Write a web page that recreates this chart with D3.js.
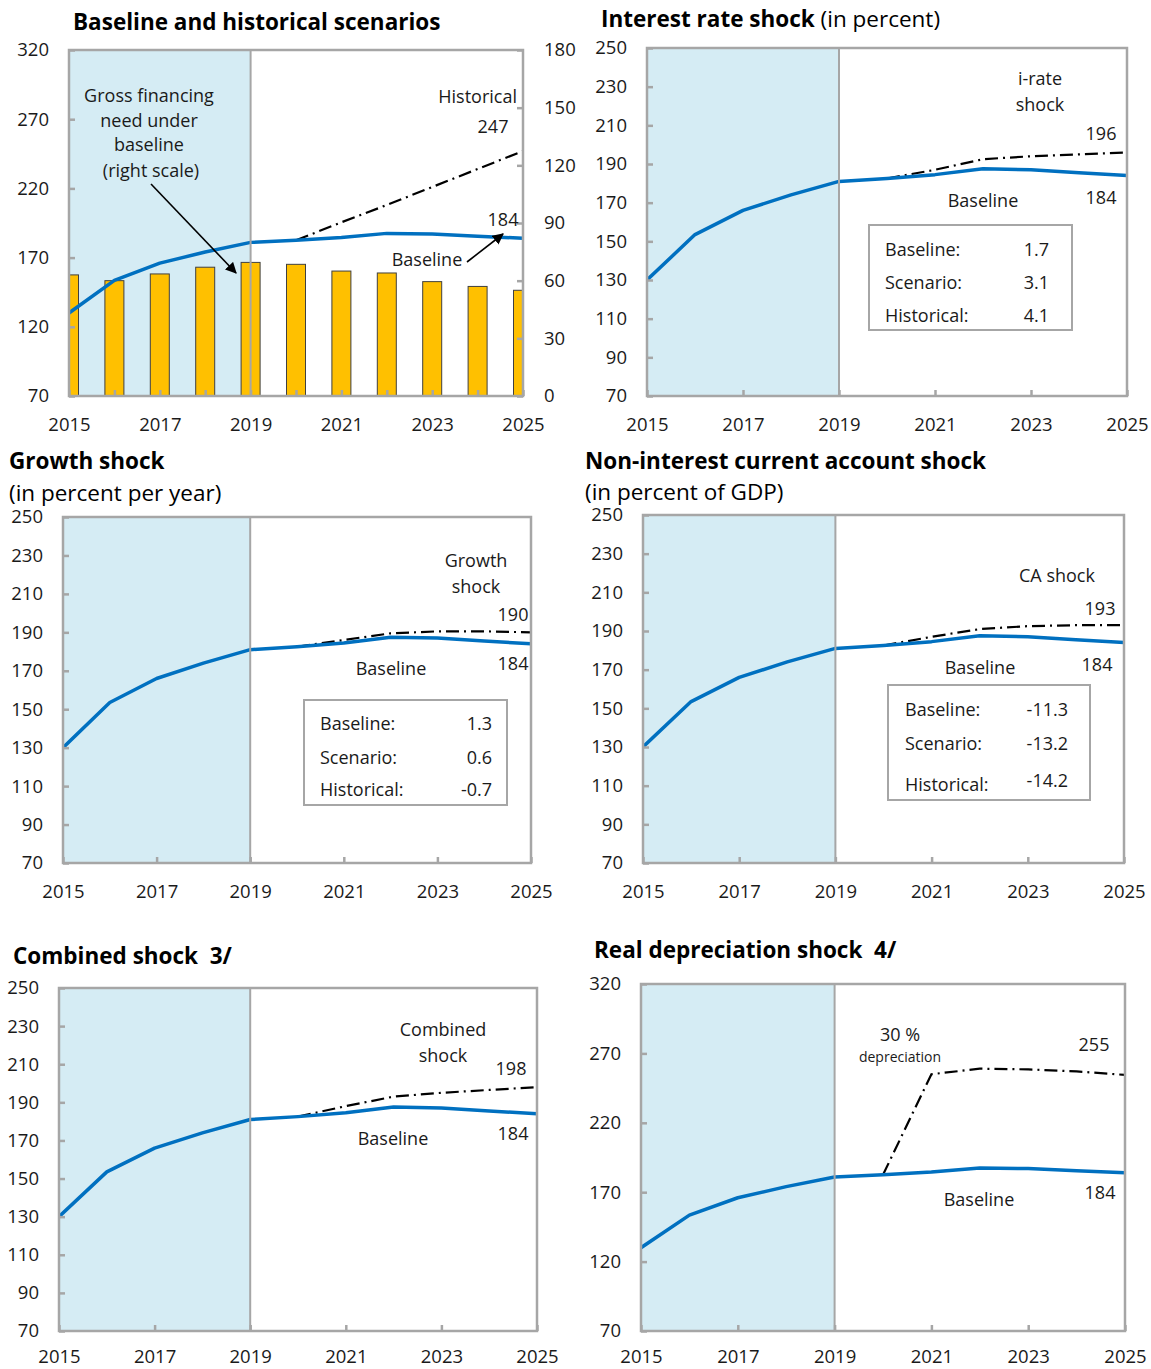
<!DOCTYPE html>
<html>
<head>
<meta charset="utf-8">
<script src="https://cdn.jsdelivr.net/npm/d3@7"></script>
<style>
  html, body { margin: 0; padding: 0; background: #fff; }
  svg { display: block; font-family: "Open Sans", "Noto Sans", sans-serif; }
</style>
</head>
<body>
<div id="chart"></div>
<script>
/* Debt sustainability stress tests: six small panels, baseline path vs. a
   shock scenario (dash-dot). Panel 1 also carries gross financing need bars
   on a right-hand scale. Projection period starts after 2019. */
var years = [2015, 2016, 2017, 2018, 2019, 2020, 2021, 2022, 2023, 2024, 2025];
var baseline = [130, 153.5, 166, 174, 181, 182.5, 184.5, 187.5, 187, 185.5, 184];
var grossFinancing = [63, 60, 63.5, 67, 69.5, 68.5, 65, 64, 59.5, 57, 55];

var scenarioYears = [2020, 2021, 2022, 2023, 2024, 2025];
var historical = [182.5, 195.5, 208, 221, 234, 247];
var irateShock = [182.5, 187, 192.5, 194, 195, 196];
var growthShock = [182.5, 186, 189.5, 190.5, 190.5, 190];
var caShock = [182.5, 187, 191, 192.5, 193, 193];
var combinedShock = [182.5, 188, 193, 195, 196.5, 198];
var deprShock = [182.5, 255, 259, 258.5, 257, 254.5];

var xLabelYears = [2015, 2017, 2019, 2021, 2023, 2025];
var ticks250 = [70, 90, 110, 130, 150, 170, 190, 210, 230, 250];
var ticks320 = [70, 120, 170, 220, 270, 320];
var ticksRight = [0, 30, 60, 90, 120, 150, 180];

var tableRows = ["Baseline:", "Scenario:", "Historical:"];
var irateTable = ["1.7", "3.1", "4.1"];
var growthTable = ["1.3", "0.6", "-0.7"];
var caTable = ["-11.3", "-13.2", "-14.2"];

var BLUE = "#0070C0", SHADE = "#D5ECF4", FRAME = "#A6A6A6";

var svg = d3.select("#chart").append("svg")
  .attr("width", 1151).attr("height", 1369);

var defs = svg.append("defs");
defs.append("marker").attr("id", "arrow")
  .attr("viewBox", "0 0 10 10").attr("refX", 9).attr("refY", 5)
  .attr("markerWidth", 7).attr("markerHeight", 7)
  .attr("markerUnits", "strokeWidth").attr("orient", "auto")
  .append("path").attr("d", "M0,0 L10,5 L0,10 z").attr("fill", "#000");

var clipN = 0;

function panel(cfg) {
  var x = d3.scaleLinear().domain([2015, 2025]).range([cfg.x0, cfg.x1]);
  var y = d3.scaleLinear().domain([70, cfg.ymax]).range([cfg.y1, cfg.y0]);
  var g = svg.append("g");

  // shaded history
  g.append("rect")
    .attr("x", x(2015)).attr("y", cfg.y0)
    .attr("width", x(2019) - x(2015)).attr("height", cfg.y1 - cfg.y0)
    .attr("fill", SHADE);

  var id = "clip" + (clipN++);
  defs.append("clipPath").attr("id", id).append("rect")
    .attr("x", cfg.x0).attr("y", cfg.y0)
    .attr("width", cfg.x1 - cfg.x0).attr("height", cfg.y1 - cfg.y0);
  var plot = g.append("g").attr("clip-path", "url(#" + id + ")");

  if (cfg.bars) {
    var yr = d3.scaleLinear().domain([0, 180]).range([cfg.y1, cfg.y0]);
    var bw = 19;
    plot.selectAll("rect.bar").data(cfg.bars).join("rect")
      .attr("class", "bar")
      .attr("x", function (d, i) { return x(years[i]) - bw / 2; })
      .attr("y", function (d) { return yr(d); })
      .attr("width", bw)
      .attr("height", function (d) { return cfg.y1 - yr(d); })
      .attr("fill", "#FFC000").attr("stroke", "#404040").attr("stroke-width", 1);
    var ra = d3.axisRight(yr).tickValues(ticksRight).tickSize(-6).tickPadding(21);
    var rg = g.append("g").attr("transform", "translate(" + cfg.x1 + ",0)").call(ra);
    styleAxis(rg);
  }

  // projection divider
  g.append("line")
    .attr("x1", x(2019)).attr("x2", x(2019))
    .attr("y1", cfg.y0).attr("y2", cfg.y1)
    .attr("stroke", FRAME).attr("stroke-width", 2);

  var line = d3.line().x(function (d) { return x(d[0]); }).y(function (d) { return y(d[1]); });

  plot.append("path")
    .datum(d3.zip(scenarioYears, cfg.shock))
    .attr("d", line).attr("fill", "none")
    .attr("stroke", "#000").attr("stroke-width", 2.2)
    .attr("stroke-dasharray", "13,5,2,5");

  plot.append("path")
    .datum(d3.zip(years, baseline))
    .attr("d", line).attr("fill", "none")
    .attr("stroke", BLUE).attr("stroke-width", 3.5)
    .attr("stroke-linejoin", "round");

  // frame
  g.append("rect")
    .attr("x", cfg.x0).attr("y", cfg.y0)
    .attr("width", cfg.x1 - cfg.x0).attr("height", cfg.y1 - cfg.y0)
    .attr("fill", "none").attr("stroke", FRAME).attr("stroke-width", 2.5);

  var la = d3.axisLeft(y).tickValues(cfg.ticks).tickSize(-6).tickPadding(20);
  styleAxis(g.append("g").attr("transform", "translate(" + cfg.x0 + ",0)").call(la));

  var ba = d3.axisBottom(x).tickValues(cfg.bars ? years : xLabelYears)
    .tickFormat(function (d) { return xLabelYears.indexOf(d) >= 0 ? d : ""; })
    .tickSize(-6).tickPadding(cfg.xPad || 22);
  styleAxis(g.append("g").attr("transform", "translate(0," + cfg.y1 + ")").call(ba));

  // titles
  cfg.titles.forEach(function (t) {
    var tx = g.append("text").attr("x", t.x).attr("y", t.y)
      .attr("font-size", 22.5).attr("fill", "#000")
      .attr("xml:space", "preserve").style("white-space", "pre");
    tx.append("tspan").attr("font-weight", t.bold ? 700 : 400).text(t.text);
    if (t.rest) tx.append("tspan").attr("font-weight", 400).text(t.rest);
  });

  // annotations
  cfg.notes.forEach(function (n) {
    g.append("text").attr("x", n.x).attr("y", n.y)
      .attr("text-anchor", n.anchor || "middle")
      .attr("font-size", n.size || 18).attr("fill", "#1a1a1a")
      .text(n.text);
  });

  (cfg.arrows || []).forEach(function (a) {
    g.append("line").attr("x1", a[0]).attr("y1", a[1])
      .attr("x2", a[2]).attr("y2", a[3])
      .attr("stroke", "#000").attr("stroke-width", 1.6)
      .attr("marker-end", "url(#arrow)");
  });

  if (cfg.table) {
    var b = cfg.box;
    g.append("rect").attr("x", b.x).attr("y", b.y)
      .attr("width", b.w).attr("height", b.h)
      .attr("fill", "#fff").attr("stroke", FRAME).attr("stroke-width", 2);
    tableRows.forEach(function (r, i) {
      g.append("text").attr("x", b.lx).attr("y", b.rows[i])
        .attr("font-size", 18).attr("fill", "#1a1a1a").text(r);
      g.append("text").attr("x", b.vx).attr("y", b.rows[i] + (b.shift ? b.shift[i] : 0))
        .attr("text-anchor", "end")
        .attr("font-size", 18).attr("fill", "#1a1a1a").text(cfg.table[i]);
    });
  }
}

function styleAxis(sel) {
  sel.select(".domain").remove();
  sel.selectAll(".tick line").attr("stroke", FRAME).attr("stroke-width", 2.5);
  sel.selectAll(".tick text").attr("font-size", 18.5).attr("fill", "#1a1a1a")
    .attr("font-family", "'Open Sans', 'Noto Sans', sans-serif");
}

panel({
  x0: 69, x1: 523, y0: 50, y1: 396, ymax: 320, ticks: ticks320,
  bars: grossFinancing, shock: historical,
  titles: [{ x: 73, y: 30, bold: true, text: "Baseline and historical scenarios" }],
  notes: [
    { x: 149, y: 102, text: "Gross financing" },
    { x: 149, y: 127, text: "need under" },
    { x: 149, y: 151, text: "baseline" },
    { x: 151, y: 177, text: "(right scale)" },
    { x: 517, y: 103, anchor: "end", text: "Historical" },
    { x: 493, y: 133, text: "247" },
    { x: 503, y: 226, text: "184" },
    { x: 427, y: 266, text: "Baseline" }
  ],
  arrows: [[151, 184, 236, 273], [467, 262, 503, 234]]
});

panel({
  x0: 647, x1: 1127, y0: 48, y1: 396, ymax: 250, ticks: ticks250,
  shock: irateShock,
  titles: [{ x: 601, y: 27, bold: true, text: "Interest rate shock", rest: " (in percent)" }],
  notes: [
    { x: 1040, y: 85, text: "i-rate" },
    { x: 1040, y: 111, text: "shock" },
    { x: 1101, y: 140, text: "196" },
    { x: 983, y: 207, text: "Baseline" },
    { x: 1101, y: 204, text: "184" }
  ],
  table: irateTable,
  box: { x: 869, y: 225, w: 203, h: 105, lx: 885, vx: 1049, rows: [256, 289, 322] }
});

panel({
  x0: 63, x1: 531, y0: 517, y1: 863, ymax: 250, ticks: ticks250,
  shock: growthShock,
  titles: [
    { x: 9, y: 469, bold: true, text: "Growth shock" },
    { x: 9, y: 501, bold: false, text: "(in percent per year)" }
  ],
  notes: [
    { x: 476, y: 567, text: "Growth" },
    { x: 476, y: 593, text: "shock" },
    { x: 513, y: 621, text: "190" },
    { x: 391, y: 675, text: "Baseline" },
    { x: 513, y: 670, text: "184" }
  ],
  table: growthTable,
  box: { x: 304, y: 700, w: 203, h: 105, lx: 320, vx: 492, rows: [730, 764, 796] }
});

panel({
  x0: 643, x1: 1124, y0: 515, y1: 863, ymax: 250, ticks: ticks250,
  shock: caShock,
  titles: [
    { x: 585, y: 469, bold: true, text: "Non-interest current account shock" },
    { x: 585, y: 500, bold: false, text: "(in percent of GDP)" }
  ],
  notes: [
    { x: 1057, y: 582, text: "CA shock" },
    { x: 1100, y: 615, text: "193" },
    { x: 980, y: 674, text: "Baseline" },
    { x: 1097, y: 671, text: "184" }
  ],
  table: caTable,
  box: { x: 888, y: 685, w: 202, h: 115, lx: 905, vx: 1068, rows: [716, 750, 791], shift: [0, 0, -4] }
});

panel({
  x0: 59, x1: 537, y0: 988, y1: 1331, ymax: 250, ticks: ticks250,
  shock: combinedShock, xPad: 19,
  titles: [{ x: 13, y: 964, bold: true, text: "Combined shock  3/" }],
  notes: [
    { x: 443, y: 1036, text: "Combined" },
    { x: 443, y: 1062, text: "shock" },
    { x: 511, y: 1075, text: "198" },
    { x: 393, y: 1145, text: "Baseline" },
    { x: 513, y: 1140, text: "184" }
  ]
});

panel({
  x0: 641, x1: 1125, y0: 984, y1: 1331, ymax: 320, ticks: ticks320,
  shock: deprShock, xPad: 19,
  titles: [{ x: 594, y: 958, bold: true, text: "Real depreciation shock  4/" }],
  notes: [
    { x: 900, y: 1041, text: "30 %" },
    { x: 900, y: 1062, size: 14, text: "depreciation" },
    { x: 1094, y: 1051, text: "255" },
    { x: 979, y: 1206, text: "Baseline" },
    { x: 1100, y: 1199, text: "184" }
  ]
});
</script>
</body>
</html>
